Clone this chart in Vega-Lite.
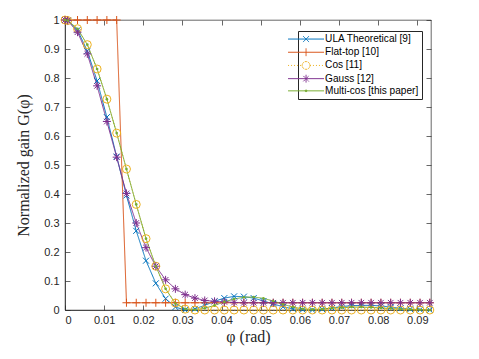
{
"$schema": "https://vega.github.io/schema/vega-lite/v6.json",
"width": 366, "height": 290,
"autosize": {"type": "none"},
"padding": {"left": 65, "top": 20, "right": 48, "bottom": 49},
"background": "white",
"config": {
  "view": {"stroke": "#262626", "strokeWidth": 0.7},
  "axis": {"domainColor": "#262626", "tickColor": "#262626", "labelColor": "#262626", "labelFont": "Liberation Sans", "labelFontSize": 11, "titleFont": "Liberation Serif", "titleFontWeight": "normal", "titleFontSize": 16, "titleColor": "#262626", "grid": false, "tickSize": -5, "domainWidth": 0.7, "tickWidth": 0.7}
},
"data": {"values": [
{"series":"ULA Theoretical [9]","phi":0,"gain":1},{"series":"ULA Theoretical [9]","phi":0.0007,"gain":0.998},{"series":"ULA Theoretical [9]","phi":0.0032,"gain":0.965},{"series":"ULA Theoretical [9]","phi":0.0057,"gain":0.893},{"series":"ULA Theoretical [9]","phi":0.0082,"gain":0.79},{"series":"ULA Theoretical [9]","phi":0.0107,"gain":0.665},{"series":"ULA Theoretical [9]","phi":0.0132,"gain":0.529},{"series":"ULA Theoretical [9]","phi":0.0157,"gain":0.395},{"series":"ULA Theoretical [9]","phi":0.0182,"gain":0.273},{"series":"ULA Theoretical [9]","phi":0.0207,"gain":0.17},{"series":"ULA Theoretical [9]","phi":0.0232,"gain":0.092},{"series":"ULA Theoretical [9]","phi":0.0257,"gain":0.039},{"series":"ULA Theoretical [9]","phi":0.0282,"gain":0.01},{"series":"ULA Theoretical [9]","phi":0.0307,"gain":0.0},{"series":"ULA Theoretical [9]","phi":0.0332,"gain":0.004},{"series":"ULA Theoretical [9]","phi":0.0357,"gain":0.016},{"series":"ULA Theoretical [9]","phi":0.0382,"gain":0.03},{"series":"ULA Theoretical [9]","phi":0.0407,"gain":0.041},{"series":"ULA Theoretical [9]","phi":0.0432,"gain":0.047},{"series":"ULA Theoretical [9]","phi":0.0457,"gain":0.046},{"series":"ULA Theoretical [9]","phi":0.0482,"gain":0.041},{"series":"ULA Theoretical [9]","phi":0.0507,"gain":0.031},{"series":"ULA Theoretical [9]","phi":0.0532,"gain":0.021},{"series":"ULA Theoretical [9]","phi":0.0557,"gain":0.011},{"series":"ULA Theoretical [9]","phi":0.0582,"gain":0.004},{"series":"ULA Theoretical [9]","phi":0.0607,"gain":0.001},{"series":"ULA Theoretical [9]","phi":0.0632,"gain":0.0},{"series":"ULA Theoretical [9]","phi":0.0657,"gain":0.003},{"series":"ULA Theoretical [9]","phi":0.0682,"gain":0.007},{"series":"ULA Theoretical [9]","phi":0.0707,"gain":0.012},{"series":"ULA Theoretical [9]","phi":0.0732,"gain":0.015},{"series":"ULA Theoretical [9]","phi":0.0757,"gain":0.016},{"series":"ULA Theoretical [9]","phi":0.0782,"gain":0.016},{"series":"ULA Theoretical [9]","phi":0.0807,"gain":0.014},{"series":"ULA Theoretical [9]","phi":0.0832,"gain":0.01},{"series":"ULA Theoretical [9]","phi":0.0857,"gain":0.006},{"series":"ULA Theoretical [9]","phi":0.0882,"gain":0.003},{"series":"ULA Theoretical [9]","phi":0.0907,"gain":0.001},{"series":"ULA Theoretical [9]","phi":0.0932,"gain":0.0},
{"series":"Flat-top [10]","phi":0,"gain":1},{"series":"Flat-top [10]","phi":0.0007,"gain":1},{"series":"Flat-top [10]","phi":0.0032,"gain":1},{"series":"Flat-top [10]","phi":0.0057,"gain":1},{"series":"Flat-top [10]","phi":0.0082,"gain":1},{"series":"Flat-top [10]","phi":0.0107,"gain":1},{"series":"Flat-top [10]","phi":0.0132,"gain":1},{"series":"Flat-top [10]","phi":0.0157,"gain":0.025},{"series":"Flat-top [10]","phi":0.0182,"gain":0.025},{"series":"Flat-top [10]","phi":0.0207,"gain":0.025},{"series":"Flat-top [10]","phi":0.0232,"gain":0.025},{"series":"Flat-top [10]","phi":0.0257,"gain":0.025},{"series":"Flat-top [10]","phi":0.0282,"gain":0.025},{"series":"Flat-top [10]","phi":0.0307,"gain":0.025},{"series":"Flat-top [10]","phi":0.0332,"gain":0.025},{"series":"Flat-top [10]","phi":0.0357,"gain":0.025},{"series":"Flat-top [10]","phi":0.0382,"gain":0.025},{"series":"Flat-top [10]","phi":0.0407,"gain":0.025},{"series":"Flat-top [10]","phi":0.0432,"gain":0.025},{"series":"Flat-top [10]","phi":0.0457,"gain":0.025},{"series":"Flat-top [10]","phi":0.0482,"gain":0.025},{"series":"Flat-top [10]","phi":0.0507,"gain":0.025},{"series":"Flat-top [10]","phi":0.0532,"gain":0.025},{"series":"Flat-top [10]","phi":0.0557,"gain":0.025},{"series":"Flat-top [10]","phi":0.0582,"gain":0.025},{"series":"Flat-top [10]","phi":0.0607,"gain":0.025},{"series":"Flat-top [10]","phi":0.0632,"gain":0.025},{"series":"Flat-top [10]","phi":0.0657,"gain":0.025},{"series":"Flat-top [10]","phi":0.0682,"gain":0.025},{"series":"Flat-top [10]","phi":0.0707,"gain":0.025},{"series":"Flat-top [10]","phi":0.0732,"gain":0.025},{"series":"Flat-top [10]","phi":0.0757,"gain":0.025},{"series":"Flat-top [10]","phi":0.0782,"gain":0.025},{"series":"Flat-top [10]","phi":0.0807,"gain":0.025},{"series":"Flat-top [10]","phi":0.0832,"gain":0.025},{"series":"Flat-top [10]","phi":0.0857,"gain":0.025},{"series":"Flat-top [10]","phi":0.0882,"gain":0.025},{"series":"Flat-top [10]","phi":0.0907,"gain":0.025},{"series":"Flat-top [10]","phi":0.0932,"gain":0.025},
{"series":"Cos [11]","phi":0,"gain":1},{"series":"Cos [11]","phi":0.0007,"gain":0.998},{"series":"Cos [11]","phi":0.0032,"gain":0.97},{"series":"Cos [11]","phi":0.0057,"gain":0.915},{"series":"Cos [11]","phi":0.0082,"gain":0.831},{"series":"Cos [11]","phi":0.0107,"gain":0.727},{"series":"Cos [11]","phi":0.0132,"gain":0.61},{"series":"Cos [11]","phi":0.0157,"gain":0.486},{"series":"Cos [11]","phi":0.0182,"gain":0.364},{"series":"Cos [11]","phi":0.0207,"gain":0.246},{"series":"Cos [11]","phi":0.0232,"gain":0.151},{"series":"Cos [11]","phi":0.0257,"gain":0.073},{"series":"Cos [11]","phi":0.0282,"gain":0.024},{"series":"Cos [11]","phi":0.0307,"gain":0.003},{"series":"Cos [11]","phi":0.0332,"gain":0},{"series":"Cos [11]","phi":0.0357,"gain":0},{"series":"Cos [11]","phi":0.0382,"gain":0},{"series":"Cos [11]","phi":0.0407,"gain":0},{"series":"Cos [11]","phi":0.0432,"gain":0},{"series":"Cos [11]","phi":0.0457,"gain":0},{"series":"Cos [11]","phi":0.0482,"gain":0},{"series":"Cos [11]","phi":0.0507,"gain":0},{"series":"Cos [11]","phi":0.0532,"gain":0},{"series":"Cos [11]","phi":0.0557,"gain":0},{"series":"Cos [11]","phi":0.0582,"gain":0},{"series":"Cos [11]","phi":0.0607,"gain":0},{"series":"Cos [11]","phi":0.0632,"gain":0},{"series":"Cos [11]","phi":0.0657,"gain":0},{"series":"Cos [11]","phi":0.0682,"gain":0},{"series":"Cos [11]","phi":0.0707,"gain":0},{"series":"Cos [11]","phi":0.0732,"gain":0},{"series":"Cos [11]","phi":0.0757,"gain":0},{"series":"Cos [11]","phi":0.0782,"gain":0},{"series":"Cos [11]","phi":0.0807,"gain":0},{"series":"Cos [11]","phi":0.0832,"gain":0},{"series":"Cos [11]","phi":0.0857,"gain":0},{"series":"Cos [11]","phi":0.0882,"gain":0},{"series":"Cos [11]","phi":0.0907,"gain":0},{"series":"Cos [11]","phi":0.0932,"gain":0},
{"series":"Gauss [12]","phi":0,"gain":1},{"series":"Gauss [12]","phi":0.0007,"gain":0.998},{"series":"Gauss [12]","phi":0.0032,"gain":0.958},{"series":"Gauss [12]","phi":0.0057,"gain":0.883},{"series":"Gauss [12]","phi":0.0082,"gain":0.773},{"series":"Gauss [12]","phi":0.0107,"gain":0.65},{"series":"Gauss [12]","phi":0.0132,"gain":0.527},{"series":"Gauss [12]","phi":0.0157,"gain":0.402},{"series":"Gauss [12]","phi":0.0182,"gain":0.3},{"series":"Gauss [12]","phi":0.0207,"gain":0.215},{"series":"Gauss [12]","phi":0.0232,"gain":0.151},{"series":"Gauss [12]","phi":0.0257,"gain":0.104},{"series":"Gauss [12]","phi":0.0282,"gain":0.073},{"series":"Gauss [12]","phi":0.0307,"gain":0.053},{"series":"Gauss [12]","phi":0.0332,"gain":0.041},{"series":"Gauss [12]","phi":0.0357,"gain":0.033},{"series":"Gauss [12]","phi":0.0382,"gain":0.03},{"series":"Gauss [12]","phi":0.0407,"gain":0.028},{"series":"Gauss [12]","phi":0.0432,"gain":0.026},{"series":"Gauss [12]","phi":0.0457,"gain":0.025},{"series":"Gauss [12]","phi":0.0482,"gain":0.025},{"series":"Gauss [12]","phi":0.0507,"gain":0.025},{"series":"Gauss [12]","phi":0.0532,"gain":0.025},{"series":"Gauss [12]","phi":0.0557,"gain":0.025},{"series":"Gauss [12]","phi":0.0582,"gain":0.025},{"series":"Gauss [12]","phi":0.0607,"gain":0.025},{"series":"Gauss [12]","phi":0.0632,"gain":0.025},{"series":"Gauss [12]","phi":0.0657,"gain":0.025},{"series":"Gauss [12]","phi":0.0682,"gain":0.025},{"series":"Gauss [12]","phi":0.0707,"gain":0.025},{"series":"Gauss [12]","phi":0.0732,"gain":0.025},{"series":"Gauss [12]","phi":0.0757,"gain":0.025},{"series":"Gauss [12]","phi":0.0782,"gain":0.025},{"series":"Gauss [12]","phi":0.0807,"gain":0.025},{"series":"Gauss [12]","phi":0.0832,"gain":0.025},{"series":"Gauss [12]","phi":0.0857,"gain":0.025},{"series":"Gauss [12]","phi":0.0882,"gain":0.025},{"series":"Gauss [12]","phi":0.0907,"gain":0.025},{"series":"Gauss [12]","phi":0.0932,"gain":0.025},
{"series":"Multi-cos [this paper]","phi":0,"gain":1},{"series":"Multi-cos [this paper]","phi":0.0007,"gain":0.998},{"series":"Multi-cos [this paper]","phi":0.0032,"gain":0.97},{"series":"Multi-cos [this paper]","phi":0.0057,"gain":0.915},{"series":"Multi-cos [this paper]","phi":0.0082,"gain":0.831},{"series":"Multi-cos [this paper]","phi":0.0107,"gain":0.727},{"series":"Multi-cos [this paper]","phi":0.0132,"gain":0.61},{"series":"Multi-cos [this paper]","phi":0.0157,"gain":0.486},{"series":"Multi-cos [this paper]","phi":0.0182,"gain":0.364},{"series":"Multi-cos [this paper]","phi":0.0207,"gain":0.246},{"series":"Multi-cos [this paper]","phi":0.0232,"gain":0.151},{"series":"Multi-cos [this paper]","phi":0.0257,"gain":0.073},{"series":"Multi-cos [this paper]","phi":0.0282,"gain":0.022},{"series":"Multi-cos [this paper]","phi":0.0307,"gain":0.004},{"series":"Multi-cos [this paper]","phi":0.0332,"gain":0.001},{"series":"Multi-cos [this paper]","phi":0.0357,"gain":0.006},{"series":"Multi-cos [this paper]","phi":0.0382,"gain":0.016},{"series":"Multi-cos [this paper]","phi":0.0407,"gain":0.028},{"series":"Multi-cos [this paper]","phi":0.0432,"gain":0.038},{"series":"Multi-cos [this paper]","phi":0.0457,"gain":0.044},{"series":"Multi-cos [this paper]","phi":0.0482,"gain":0.045},{"series":"Multi-cos [this paper]","phi":0.0507,"gain":0.04},{"series":"Multi-cos [this paper]","phi":0.0532,"gain":0.031},{"series":"Multi-cos [this paper]","phi":0.0557,"gain":0.02},{"series":"Multi-cos [this paper]","phi":0.0582,"gain":0.01},{"series":"Multi-cos [this paper]","phi":0.0607,"gain":0.004},{"series":"Multi-cos [this paper]","phi":0.0632,"gain":0.002},{"series":"Multi-cos [this paper]","phi":0.0657,"gain":0.003},{"series":"Multi-cos [this paper]","phi":0.0682,"gain":0.006},{"series":"Multi-cos [this paper]","phi":0.0707,"gain":0.008},{"series":"Multi-cos [this paper]","phi":0.0732,"gain":0.01},{"series":"Multi-cos [this paper]","phi":0.0757,"gain":0.01},{"series":"Multi-cos [this paper]","phi":0.0782,"gain":0.009},{"series":"Multi-cos [this paper]","phi":0.0807,"gain":0.007},{"series":"Multi-cos [this paper]","phi":0.0832,"gain":0.005},{"series":"Multi-cos [this paper]","phi":0.0857,"gain":0.003},{"series":"Multi-cos [this paper]","phi":0.0882,"gain":0.002},{"series":"Multi-cos [this paper]","phi":0.0907,"gain":0.001},{"series":"Multi-cos [this paper]","phi":0.0932,"gain":0.0}
]},
"resolve": {"axis": {"x": "independent", "y": "independent"}},
"layer": [
  {"mark": {"type": "line", "strokeWidth": 1},
   "encoding": {
     "x": {"field": "phi", "type": "quantitative", "scale": {"domain": [0, 0.0935], "nice": false, "zero": false},
           "axis": {"values": [0,0.01,0.02,0.03,0.04,0.05,0.06,0.07,0.08,0.09], "format": ".2~f", "title": "φ (rad)", "labelPadding": 9, "titlePadding": 3}},
     "y": {"field": "gain", "type": "quantitative", "scale": {"domain": [0, 1], "nice": false},
           "axis": {"values": [0,0.1,0.2,0.3,0.4,0.5,0.6,0.7,0.8,0.9,1], "format": ".1~f", "title": "Normalized gain G(φ)", "labelPadding": 11, "titlePadding": 12}},
     "color": {"field": "series", "type": "nominal", "sort": null,
       "scale": {"domain": ["ULA Theoretical [9]","Flat-top [10]","Cos [11]","Gauss [12]","Multi-cos [this paper]"], "range": ["#0072BD","#D95319","#EDB120","#7E2F8E","#77AC30"]},
       "legend": {"title": null, "orient": "none", "legendX": 233, "legendY": 11, "fillColor": "white", "strokeColor": "#262626", "padding": 3, "cornerRadius": 0,
         "labelFont": "Liberation Sans", "labelFontSize": 10.1, "labelColor": "#000000", "symbolSize": 36, "symbolStrokeWidth": 1, "labelOffset": 14, "rowPadding": 1.2,
         "encode": {"symbols": {"update": {
           "shape": {"signal": "datum.value === 'ULA Theoretical [9]' ? 'M-6,0L6,0M-1,-1L1,1M-1,1L1,-1' : datum.value === 'Flat-top [10]' ? 'M-6,0L6,0M0,-1.3L0,1.3' : datum.value === 'Cos [11]' ? 'M-6,0L-1.3,0M1.3,0L6,0M-1.3,0A1.3,1.3,0,1,0,1.3,0A1.3,1.3,0,1,0,-1.3,0A1.3,1.3,0,1,1,1.3,0A1.3,1.3,0,1,1,-1.3,0' : datum.value === 'Gauss [12]' ? 'M-6,0L6,0M0,-1.3L0,1.3M-0.9,-0.9L0.9,0.9M-0.9,0.9L0.9,-0.9' : 'M-6,0L6,0M-0.3,0A0.3,0.3,0,1,0,0.3,0A0.3,0.3,0,1,0,-0.3,0'"},
           "strokeDash": {"signal": "datum.value === 'Cos [11]' ? [1,1.5] : [1,0]"},
           "fill": {"value": "transparent"}}}}}},
     "strokeDash": {"field": "series", "type": "nominal", "sort": null,
       "scale": {"domain": ["ULA Theoretical [9]","Flat-top [10]","Cos [11]","Gauss [12]","Multi-cos [this paper]"], "range": [[1,0],[1,0],[1,2],[1,0],[1,0]]}, "legend": null}
   }},
  {"transform": [{"filter": {"field": "series", "equal": "ULA Theoretical [9]"}}],
   "mark": {"type": "point", "filled": false, "strokeWidth": 1, "opacity": 1, "shape": "M-1,-1L1,1M-1,1L1,-1", "size": 36},
   "encoding": {"x": {"field": "phi", "type": "quantitative", "axis": null}, "y": {"field": "gain", "type": "quantitative", "axis": null},
     "color": {"field": "series", "type": "nominal", "legend": null}}},
  {"transform": [{"filter": {"field": "series", "equal": "Flat-top [10]"}}],
   "mark": {"type": "point", "filled": false, "strokeWidth": 1, "opacity": 1, "shape": "M-1,0L1,0M0,-1L0,1", "size": 64},
   "encoding": {"x": {"field": "phi", "type": "quantitative", "axis": null}, "y": {"field": "gain", "type": "quantitative", "axis": null},
     "color": {"field": "series", "type": "nominal", "legend": null}}},
  {"transform": [{"filter": {"field": "series", "equal": "Cos [11]"}}],
   "mark": {"type": "point", "filled": false, "strokeWidth": 1, "opacity": 1, "shape": "circle", "size": 64},
   "encoding": {"x": {"field": "phi", "type": "quantitative", "axis": null}, "y": {"field": "gain", "type": "quantitative", "axis": null},
     "color": {"field": "series", "type": "nominal", "legend": null}}},
  {"transform": [{"filter": {"field": "series", "equal": "Gauss [12]"}}],
   "mark": {"type": "point", "filled": false, "strokeWidth": 1, "opacity": 1, "shape": "M-1,0L1,0M0,-1L0,1M-0.7,-0.7L0.7,0.7M-0.7,0.7L0.7,-0.7", "size": 64},
   "encoding": {"x": {"field": "phi", "type": "quantitative", "axis": null}, "y": {"field": "gain", "type": "quantitative", "axis": null},
     "color": {"field": "series", "type": "nominal", "legend": null}}},
  {"transform": [{"filter": {"field": "series", "equal": "Multi-cos [this paper]"}}],
   "mark": {"type": "point", "filled": true, "opacity": 1, "shape": "circle", "size": 7},
   "encoding": {"x": {"field": "phi", "type": "quantitative", "axis": null}, "y": {"field": "gain", "type": "quantitative", "axis": null},
     "color": {"field": "series", "type": "nominal", "legend": null}}},
  {"mark": {"type": "point", "opacity": 0},
   "encoding": {
     "x": {"field": "phi", "type": "quantitative", "axis": {"orient": "top", "labels": false, "title": null, "domain": false, "values": [0,0.01,0.02,0.03,0.04,0.05,0.06,0.07,0.08,0.09]}},
     "y": {"field": "gain", "type": "quantitative", "axis": {"orient": "right", "labels": false, "title": null, "domain": false, "values": [0,0.1,0.2,0.3,0.4,0.5,0.6,0.7,0.8,0.9,1]}}
   }}
]
}
